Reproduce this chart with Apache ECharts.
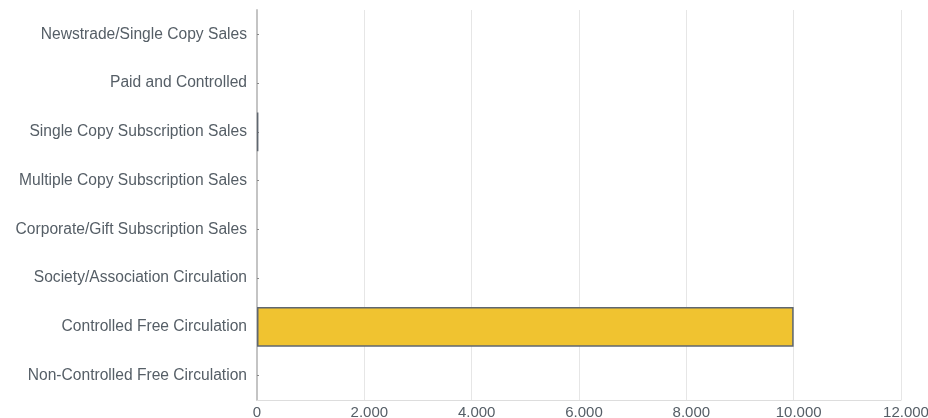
<!DOCTYPE html>
<html><head><meta charset="utf-8">
<script src="https://cdn.jsdelivr.net/npm/echarts@6/dist/echarts.min.js"></script>
<style>html,body{margin:0;padding:0;background:#fff}#c{width:928px;height:418px}</style>
</head><body><div id="c"></div>
<script>
const categories = [
  "Newstrade/Single Copy Sales",
  "Paid and Controlled",
  "Single Copy Subscription Sales",
  "Multiple Copy Subscription Sales",
  "Corporate/Gift Subscription Sales",
  "Society/Association Circulation",
  "Controlled Free Circulation",
  "Non-Controlled Free Circulation"
];
const values = [0, 0, 25, 0, 0, 0, 10000, 0];
const axisMin = 0, axisMax = 12000, axisStep = 2000;

function fmt(v){
  const s = String(Math.round(v)).replace(/\B(?=(\d{3})+(?!\d))/g, '.');
  return v === 0 ? '{z|' + s + '}' : '{n|' + s + '}';
}

const barData = values.map(v => v === 0
  ? {value: v, itemStyle: {borderWidth: 0}}
  : {value: v});

const font = 'Liberation Sans, Arial, sans-serif';
const chart = echarts.init(document.getElementById('c'), null, {renderer:'canvas'});
chart.setOption({
  animation:false,
  grid:{left:257, right:27, top:10, bottom:18, containLabel:false, outerBoundsMode:'none'},
  xAxis:{
    type:'value', min:axisMin, max:axisMax, interval:axisStep,
    axisLine:{show:true, lineStyle:{color:'#dddddd', width:1}},
    axisTick:{show:false},
    splitLine:{show:true, lineStyle:{color:'#e6e6e6', width:1}},
    axisLabel:{color:'#555e66', fontSize:15, fontFamily:font, margin:5, formatter:fmt, hideOverlap:false,
      rich:{
        z:{color:'#555e66', fontSize:15, fontFamily:font},
        n:{color:'#555e66', fontSize:15, fontFamily:font, padding:[0,0,0,10]}
      }}
  },
  yAxis:{
    type:'category', data:categories, inverse:true,
    axisLine:{show:true, lineStyle:{color:'#c4c4c4', width:2}},
    axisTick:{show:true, inside:true, alignWithLabel:true, length:2, lineStyle:{color:'#888'}},
    splitLine:{show:false},
    axisLabel:{color:'#555e66', fontSize:15.6, fontFamily:font, margin:10, padding:[5,0,0,0]}
  },
  series:[{
    type:'bar', data:barData, barCategoryGap:'18%',
    itemStyle:{color:'#f0c330', borderColor:'#5f6770', borderWidth:1.5}
  }]
});
</script></body></html>
